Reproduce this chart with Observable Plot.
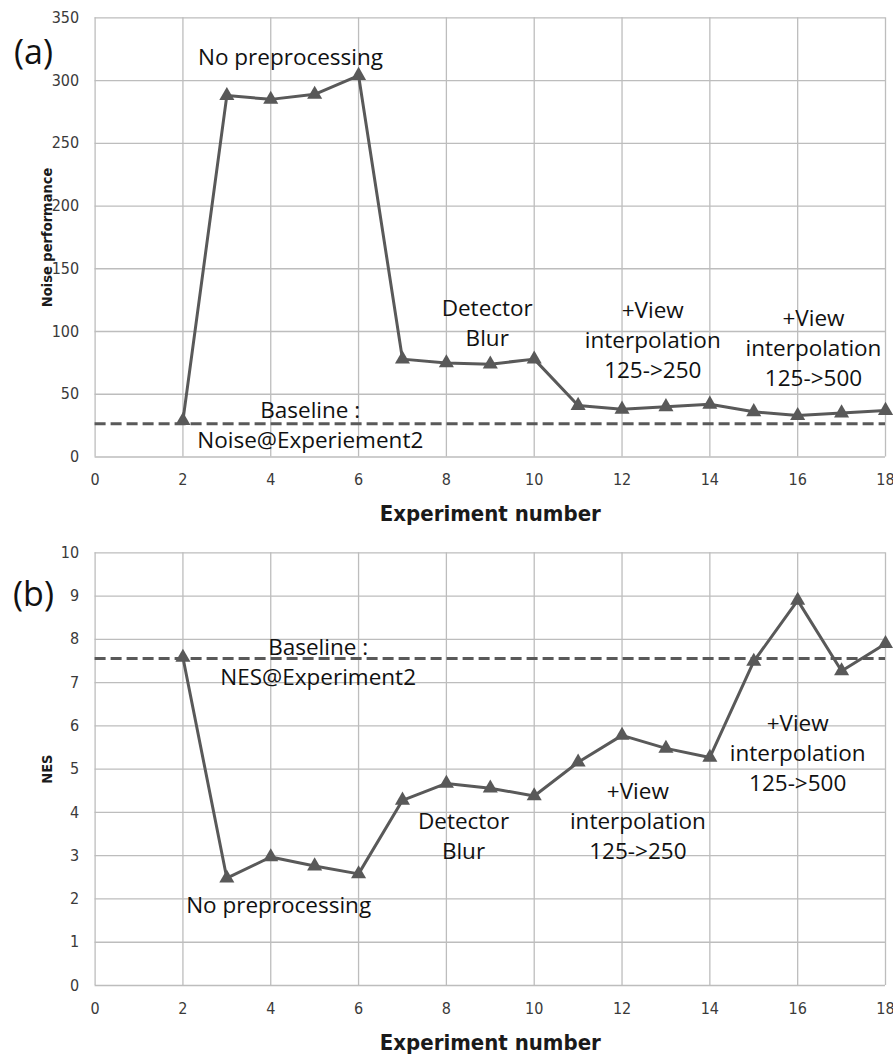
<!DOCTYPE html>
<html>
<head>
<meta charset="utf-8">
<script src="https://cdn.jsdelivr.net/npm/d3@7"></script>
<script src="https://cdn.jsdelivr.net/npm/@observablehq/plot@0.6"></script>
<style>
  html, body { margin: 0; padding: 0; background: #fff; }
  #chart { width: 893px; }
  #chart svg { display: block; }
</style>
</head>
<body>
<div id="chart"></div>
<script>
// ---- data ----
const experiments = [2, 3, 4, 5, 6, 7, 8, 9, 10, 11, 12, 13, 14, 15, 16, 17, 18];
const noisePerformance = [29, 288, 285, 289, 304, 78, 75, 74, 78, 41, 38, 40, 42, 36, 33, 35, 37];
const nesValues = [7.58, 2.48, 2.97, 2.76, 2.58, 4.28, 4.67, 4.56, 4.38, 5.16, 5.78, 5.48, 5.27, 7.49, 8.9, 7.27, 7.9];
const noiseBaseline = 26.5;
const nesBaseline = 7.56;
const xTicks = [0, 2, 4, 6, 8, 10, 12, 14, 16, 18];
const noiseTicks = [0, 50, 100, 150, 200, 250, 300, 350];
const nesTicks = [0, 1, 2, 3, 4, 5, 6, 7, 8, 9, 10];
const xLabel = "Experiment number";
const noiseLabel = "Noise performance";
const nesLabel = "NES";

// annotation texts (anchored in data units)
const noiseNotes = [
  {x: 4.45, y: 320, text: "No preprocessing"},
  {x: 4.9, y: 26.5, text: "Baseline :\nNoise@Experiement2"},
  {x: 8.93, y: 108, text: "Detector\nBlur"},
  {x: 12.7, y: 94.7, text: "+View\ninterpolation\n125->250"},
  {x: 16.36, y: 88.3, text: "+View\ninterpolation\n125->500"}
];
const nesNotes = [
  {x: 5.08, y: 7.52, text: "Baseline :\nNES@Experiment2"},
  {x: 4.18, y: 1.90, text: "No preprocessing"},
  {x: 8.39, y: 3.49, text: "Detector\nBlur"},
  {x: 12.36, y: 3.84, text: "+View\ninterpolation\n125->250"},
  {x: 16.0, y: 5.41, text: "+View\ninterpolation\n125->500"}
];

const tickFont = "'DejaVu Sans Condensed', 'Liberation Sans Narrow', 'DejaVu Sans', sans-serif";
const noteFont = "'Open Sans', 'Noto Sans', sans-serif";
const ink = "#595959";
const gridColor = "#bdbdbd";

function panel({values, baseline, yDomain, yTicks, yLabel, notes, tag, height, marginTop, marginBottom, tagDy}) {
  const data = experiments.map((e, i) => ({x: e, y: values[i]}));
  return Plot.plot({
    width: 893,
    height,
    marginTop,
    marginBottom,
    marginLeft: 94.6,
    marginRight: 8,
    x: {domain: [0, 18]},
    y: {domain: yDomain},
    style: {fontFamily: tickFont, fontSize: "16px", color: "#3a3a3a", background: "#fff", overflow: "visible"},
    marks: [
      Plot.gridX({ticks: xTicks, stroke: gridColor, strokeOpacity: 1, strokeWidth: 1.3}),
      Plot.gridY({ticks: yTicks, stroke: gridColor, strokeOpacity: 1, strokeWidth: 1.3}),
      Plot.axisX({ticks: xTicks, tickSize: 0, tickPadding: 17, label: null}),
      Plot.axisY({ticks: yTicks, tickSize: 0, tickPadding: 16, label: null}),
      Plot.text([xLabel], {frameAnchor: "bottom", dy: 57, lineAnchor: "middle", textAnchor: "middle", fontWeight: "bold", fontSize: 22, fill: "#1a1a1a"}),
      Plot.text([yLabel], {frameAnchor: "left", dx: -48, rotate: -90, textAnchor: "middle", lineAnchor: "middle", fontWeight: "bold", fontSize: 14.5, fill: "#1a1a1a"}),
      Plot.text([tag], {frameAnchor: "top-left", dx: -61.6, dy: tagDy, fontSize: 34, fontFamily: noteFont, fill: "#111", textAnchor: "middle", lineAnchor: "middle"}),
      Plot.ruleY([baseline], {stroke: ink, strokeWidth: 3, strokeDasharray: "11,5"}),
      Plot.line(data, {x: "x", y: "y", stroke: ink, strokeWidth: 3}),
      Plot.dot(data, {x: "x", y: "y", symbol: "triangle", r: 5.6, fill: ink, stroke: "none"}),
      Plot.text(notes, {x: "x", y: "y", text: "text", fontSize: 22.5, lineHeight: 1.33, fontFamily: noteFont, fill: "#111"})
    ]
  });
}

const chart = document.getElementById("chart");
chart.append(panel({
  values: noisePerformance, baseline: noiseBaseline, yDomain: [0, 350], yTicks: noiseTicks,
  yLabel: noiseLabel, notes: noiseNotes, tag: "(a)", height: 530, marginTop: 17.3, marginBottom: 73.5, tagDy: 35
}));
chart.append(panel({
  values: nesValues, baseline: nesBaseline, yDomain: [0, 10], yTicks: nesTicks,
  yLabel: nesLabel, notes: nesNotes, tag: "(b)", height: 525, marginTop: 22.3, marginBottom: 70, tagDy: 42
}));
</script>
</body>
</html>
